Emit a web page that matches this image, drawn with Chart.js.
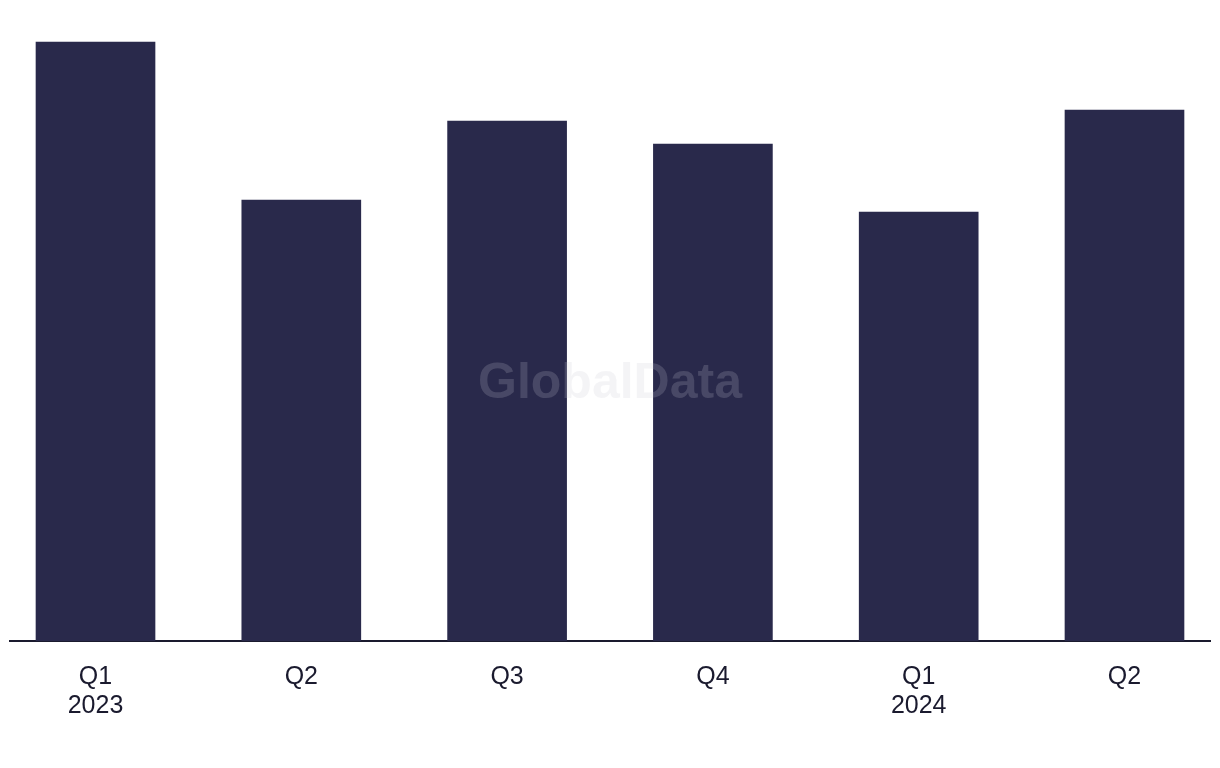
<!DOCTYPE html>
<html>
<head>
<meta charset="utf-8">
<script src="https://cdn.jsdelivr.net/npm/chart.js@4"></script>
<style>
  html, body { margin: 0; padding: 0; background: #ffffff; }
  #chart { display: block; }
</style>
</head>
<body>
<canvas id="chart" width="1220" height="768"></canvas>
<script>
const quarters = ["Q1", "Q2", "Q3", "Q4", "Q1", "Q2"];
const years = ["2023", "", "", "", "2024", ""];
const values = [59.9, 44.1, 52.0, 49.7, 42.9, 53.1];

const barColor = "#29294b";
const textColor = "#1a1a2e";
const xMin = -0.4155;
const xMax = 5.4155;

const watermark = {
  id: "watermark",
  afterDatasetsDraw(chart) {
    const ctx = chart.ctx;
    ctx.save();
    ctx.font = "bold 50px 'Liberation Sans', Arial, sans-serif";
    ctx.fillStyle = "rgba(200, 200, 212, 0.2)";
    ctx.textAlign = "center";
    ctx.textBaseline = "middle";
    ctx.fillText("GlobalData", 610, 384);
    ctx.restore();
  }
};

const ctx = document.getElementById("chart").getContext("2d");
new Chart(ctx, {
  type: "bar",
  data: {
    datasets: [{
      data: values.map((v, i) => ({ x: i, y: v })),
      backgroundColor: barColor,
      borderWidth: 0,
      barThickness: 119
    }]
  },
  options: {
    responsive: false,
    animation: false,
    layout: { padding: { left: 10, right: 10, top: 0, bottom: 0 } },
    plugins: { legend: { display: false }, tooltip: { enabled: false } },
    scales: {
      x: {
        type: "linear",
        offset: false,
        bounds: "data",
        min: xMin,
        max: xMax,
        grid: { display: false, offset: false },
        border: { display: true, color: textColor, width: 2 },
        afterDataLimits: (scale) => { scale.min = xMin; scale.max = xMax; },
        afterBuildTicks: (scale) => {
          scale.ticks = quarters.map((q, i) => ({ value: i }));
        },
        afterFit: (scale) => { scale.height = 127; },
        ticks: {
          autoSkip: false,
          maxRotation: 0,
          padding: 13,
          color: textColor,
          font: { family: "'Liberation Sans', Arial, sans-serif", size: 25, lineHeight: 1.18 },
          callback: (value) => {
            const i = Math.round(value);
            return years[i] ? [quarters[i], years[i]] : quarters[i];
          }
        }
      },
      y: {
        display: false,
        min: 0,
        max: 64.1
      }
    }
  },
  plugins: [watermark]
});
</script>
</body>
</html>
